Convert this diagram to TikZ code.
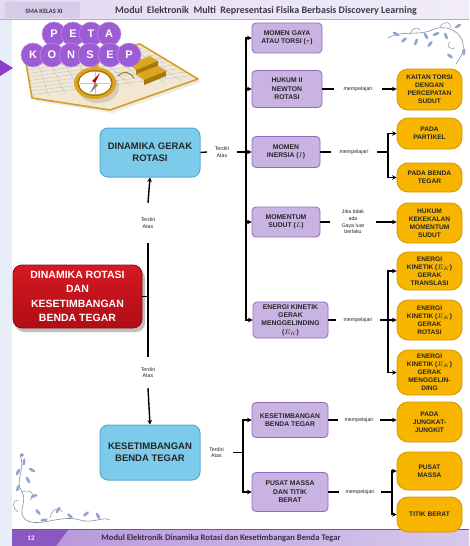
\documentclass[tikz,border=0pt]{standalone}
\usepackage{fontspec}
\setmainfont{Liberation Sans}
\newfontfamily\hdrfont{Carlito}
\usetikzlibrary{arrows.meta,calc}

\definecolor{pbox}{HTML}{C9B3E3}
\definecolor{pedge}{HTML}{8E6CB8}
\definecolor{obox}{HTML}{F7B500}
\definecolor{oedge}{HTML}{D39500}
\definecolor{bbox}{HTML}{7DCBEB}
\definecolor{bedge}{HTML}{55AAD3}
\definecolor{rtop}{HTML}{D41A22}
\definecolor{rbot}{HTML}{B00D15}
\definecolor{redge}{HTML}{8E0A10}
\definecolor{circ}{HTML}{9E5CD4}
\definecolor{margin}{HTML}{E8EEF8}
\definecolor{hdrA}{HTML}{E2DAF0}
\definecolor{hdrB}{HTML}{F1EDF8}
\definecolor{hdrC}{HTML}{D6CCE8}
\definecolor{hdrtext}{HTML}{3C3A4A}
\definecolor{ftrA}{HTML}{B595DA}
\definecolor{ftrB}{HTML}{D8C8EC}
\definecolor{ftrC}{HTML}{8A58BE}
\definecolor{ftrline}{HTML}{7A4AAE}
\definecolor{ftrtext}{HTML}{3A2C4C}
\definecolor{vine}{HTML}{8A8F9E}
\definecolor{leaf}{HTML}{8EA6D2}
\definecolor{mapbg}{HTML}{F2E8D2}
\definecolor{gold}{HTML}{DDA51E}
\definecolor{golddark}{HTML}{A8770C}
\definecolor{grid}{HTML}{B9C4D8}
\definecolor{tri}{HTML}{8B3FC8}

\tikzset{
  conn/.style={line width=1.4pt, black},
  arr/.style={conn, -{Stealth[length=4.5pt,width=4.5pt]}},
  bus/.style={conn, line cap=rect},
  topic/.style={draw=pedge, line width=0.8pt, fill=pbox, rounded corners=4pt,
    align=center, inner sep=1pt, text=black!85,
    font=\bfseries\fontsize{6.8}{8.4}\selectfont},
  leafbox/.style={draw=oedge, line width=0.8pt, fill=obox, rounded corners=11pt,
    align=center, inner sep=1pt, minimum width=65pt, text=black!85,
    font=\bfseries\fontsize{6.6}{8}\selectfont},
  mainbox/.style={draw=bedge, line width=1pt, fill=bbox, rounded corners=8pt,
    align=center, minimum width=100pt, text=black!85,
    font=\bfseries\fontsize{9.5}{12}\selectfont},
  rootbox/.style={draw=redge, line width=0.8pt, top color=rtop, bottom color=rbot,
    rounded corners=9pt, align=center, text=white,
    font=\bfseries\fontsize{10.5}{14.5}\selectfont},
  note/.style={inner sep=0pt, align=center, text=black!85,
    font=\fontsize{5.3}{6.6}\selectfont},
  letter/.style={circle, fill=circ, draw=circ!70!white, line width=0.5pt,
    minimum size=24pt, inner sep=0pt, text=white,
    font=\bfseries\fontsize{11}{11}\selectfont},
}

\newcommand{\vleaf}[3]{\fill[leaf, rotate around={#3:(#1,#2)}] (#1,#2) ellipse (3.6pt and 1.5pt);}

\begin{document}
\begin{tikzpicture}[x=1pt,y=-1pt]
\useasboundingbox (0,0) rectangle (469,546);

% page and margin
\fill[white] (0,0) rectangle (469,546);
\fill[margin] (0,0) rectangle (12,546);

% header band
\shade[left color=hdrA, right color=hdrB] (0,0) rectangle (469,19);
\fill[hdrC] (5,2) rectangle (80,18);
\draw[hdrA!80!black, line width=0.4pt] (0,19) -- (469,19);
\node[font=\hdrfont\bfseries\fontsize{6.5}{7}\selectfont, text=hdrtext] (kelas) at (44,11) {SMA KELAS XI};
\node[font=\hdrfont\bfseries\fontsize{10}{11}\selectfont, text=hdrtext] (judul) at (266,11)
  {Modul\ \ Elektronik\ \ Multi\ \ Representasi Fisika Berbasis Discovery Learning};

% footer band
\shade[left color=ftrA, right color=ftrB] (12,530) rectangle (469,546);
\fill[ftrC] (12,530) -- (68,530) -- (56,546) -- (12,546) -- cycle;
\draw[ftrline, line width=1.2pt] (12,529.6) -- (469,529.6);
\node[font=\hdrfont\bfseries\fontsize{7}{8}\selectfont, text=white!90!ftrA] (hal) at (31,538.5) {12};
\node[font=\hdrfont\bfseries\fontsize{8.6}{9}\selectfont, text=ftrtext] (kaki) at (221,538.5)
  {Modul Elektronik Dinamika Rotasi dan Kesetimbangan Benda Tegar};

% pointer on the left edge
\fill[tri] (0,60) -- (13,68) -- (0,76) -- cycle;

% map with compass
\fill[black, opacity=0.08] (29,67) -- (143,47) -- (201,82) -- (113,113) -- (35,101) -- cycle;
\fill[mapbg] (26,63) -- (140,44) -- (198,79) -- (110,110) -- (32,98) -- cycle;
\begin{scope}
  \clip (26,63) -- (140,44) -- (198,79) -- (110,110) -- (32,98) -- cycle;
  \foreach \t in {0.1,0.2,...,0.95} {
    \draw[grid, line width=0.4pt] ($(26,63)!\t!(140,44)$) -- ($(32,98)!\t!(198,79)$);
    \draw[grid, line width=0.4pt] ($(26,63)!\t!(32,98)$) -- ($(140,44)!\t!(198,79)$);
  }
\end{scope}
\draw[gold!80!brown, line width=1.6pt, line join=round]
  (26,63) -- (140,44) -- (198,79) -- (110,110) -- (32,98) -- cycle;
% gold bars on the map
\fill[gold] (128,64) -- (150,56) -- (158,61) -- (136,70) -- cycle;
\fill[golddark] (136,70) -- (158,61) -- (158,66) -- (136,75) -- cycle;
\fill[gold] (136,74) -- (158,66) -- (166,71) -- (144,80) -- cycle;
\fill[golddark] (144,80) -- (166,71) -- (166,76) -- (144,85) -- cycle;
\draw[golddark, line width=1pt] (118,76) .. controls (124,70) and (130,72) .. (134,78);
% compass
\fill[black, opacity=0.12] (98,87) ellipse (21pt and 16pt);
\fill[gold] (95,83) ellipse (21pt and 16pt);
\fill[golddark] (95,83) ellipse (17.5pt and 13pt);
\fill[white] (95,83) ellipse (16pt and 11.5pt);
\draw[grid, line width=0.3pt] (95,72) -- (95,94) (80,83) -- (110,83);
\fill[red!75!black] (95,83) -- (92,81) -- (100,73) -- cycle;
\fill[gray] (95,83) -- (98,85) -- (90,93) -- cycle;
\fill[gold] (95,66) ellipse (4pt and 3pt);

% title letters
\foreach \ch/\px in {P/54, E/73, T/91, A/109}
  \node[letter] (peta\ch) at (\px,34) {\ch};
\foreach \ch/\px [count=\i] in {K/33, O/52, N/71, S/90, E/110, P/129}
  \node[letter] (konsep\i) at (\px,55) {\ch};

% floral ornaments
\draw[vine, line width=0.6pt] (388,38) .. controls (400,30) and (420,36) .. (432,30)
  .. controls (444,24) and (458,30) .. (462,40) .. controls (466,50) and (460,58) .. (456,64);
\draw[vine, line width=0.5pt] (410,34) .. controls (412,28) and (418,26) .. (420,30);
\draw[vine, line width=0.5pt] (440,27) .. controls (444,20) and (452,22) .. (450,28);
\draw[vine, line width=0.5pt] (455,48) .. controls (448,50) and (446,44) .. (450,42);
\vleaf{396}{34}{-30} \vleaf{404}{40}{40} \vleaf{416}{42}{70} \vleaf{426}{36}{-60}
\vleaf{436}{34}{20} \vleaf{446}{36}{-70} \vleaf{458}{26}{30} \vleaf{464}{52}{80}
\vleaf{450}{56}{-40} \vleaf{430}{44}{50}

\draw[vine, line width=0.6pt] (20,455) .. controls (26,470) and (14,480) .. (22,492)
  .. controls (28,502) and (16,512) .. (26,520) .. controls (40,528) and (60,514) .. (80,520)
  .. controls (92,524) and (104,516) .. (110,520);
\draw[vine, line width=0.5pt] (22,492) .. controls (32,488) and (36,496) .. (30,500);
\draw[vine, line width=0.5pt] (50,518) .. controls (52,508) and (60,506) .. (62,512);
\draw[vine, line width=0.5pt] (18,512) .. controls (12,508) and (12,500) .. (18,500);
\vleaf{24}{462}{80} \vleaf{18}{472}{60} \vleaf{28}{480}{-60} \vleaf{32}{470}{-30}
\vleaf{18}{488}{70} \vleaf{34}{496}{20} \vleaf{38}{512}{-50} \vleaf{58}{510}{60}
\vleaf{70}{516}{-40} \vleaf{86}{514}{40} \vleaf{98}{516}{-60} \vleaf{44}{520}{10}
\fill[vine] (22,455) circle (1.8pt);

% main concepts
\fill[black, opacity=0.25, rounded corners=9pt] (15,269) rectangle (145,332);
\node[rootbox, minimum width=129pt, minimum height=63pt] (root) at (77.5,296.5)
  {DINAMIKA ROTASI\\DAN\\KESETIMBANGAN\\BENDA TEGAR};
\node[mainbox, minimum height=49pt] (rot) at (150,152.5) {DINAMIKA GERAK\\ROTASI};
\node[mainbox, minimum height=55pt] (keset) at (150,452.5) {KESETIMBANGAN\\BENDA TEGAR};

% sub topics
\node[topic, minimum width=70pt, minimum height=30pt] (torsi) at (287,38) {MOMEN GAYA\\ATAU TORSI ($\tau$)};
\node[topic, minimum width=70pt, minimum height=37pt] (newton) at (287,89) {HUKUM II\\NEWTON\\ROTASI};
\node[topic, minimum width=68pt, minimum height=31pt] (inersia) at (286,152) {MOMEN\\INERSIA ($I$)};
\node[topic, minimum width=68pt, minimum height=30pt] (momentum) at (286,222) {MOMENTUM\\SUDUT ($L$)};
\node[topic, minimum width=75pt, minimum height=36pt] (ek) at (290.5,320) {ENERGI KINETIK\\GERAK\\MENGGELINDING\\($E_K$)};
\node[topic, minimum width=76pt, minimum height=35pt] (kbt) at (290,420) {KESETIMBANGAN\\BENDA TEGAR};
\node[topic, minimum width=76pt, minimum height=39pt] (pmt) at (290,492) {PUSAT MASSA\\DAN TITIK\\BERAT};

% results
\node[leafbox, minimum height=41pt] (kaitan) at (429.5,89.5) {KAITAN TORSI\\DENGAN\\PERCEPATAN\\SUDUT};
\node[leafbox, minimum height=31pt] (partikel) at (429.5,133.5) {PADA\\PARTIKEL};
\node[leafbox, minimum height=29pt] (bendategar) at (429.5,177.5) {PADA BENDA\\TEGAR};
\node[leafbox, minimum height=40pt] (kekekalan) at (429.5,223) {HUKUM\\KEKEKALAN\\MOMENTUM\\SUDUT};
\node[leafbox, minimum height=38pt] (ektrans) at (429.5,271) {ENERGI\\KINETIK ($E_K$)\\GERAK\\TRANSLASI};
\node[leafbox, minimum height=40pt] (ekrot) at (429.5,320) {ENERGI\\KINETIK ($E_K$)\\GERAK\\ROTASI};
\node[leafbox, minimum height=45pt] (ekgel) at (429.5,372.5) {ENERGI\\KINETIK ($E_K$)\\GERAK\\MENGGELIN-\\DING};
\node[leafbox, minimum height=40pt] (jungkat) at (429.5,422) {PADA\\JUNGKAT-\\JUNGKIT};
\node[leafbox, minimum height=38pt] (pusatmassa) at (429.5,471) {PUSAT\\MASSA};
\node[leafbox, minimum height=35pt] (titikberat) at (429.5,514.5) {TITIK BERAT};

% connector labels
\node[note, minimum width=30pt, minimum height=12pt] (ta1) at (222,152) {Terdiri\\Atas};
\node[note, minimum width=20pt, minimum height=40pt] (ta2) at (148,223) {Terdiri\\Atas};
\node[note, minimum width=20pt, minimum height=31pt] (ta3) at (148,372.5) {Terdiri\\Atas};
\node[note, minimum width=33pt, minimum height=12pt] (ta4) at (216.5,452.5) {Terdiri\\Atas};
\node[note, minimum width=48pt] (m1) at (358,89) {mempelajari};
\node[note, minimum width=46pt] (m2) at (354,152) {mempelajari};
\node[note, minimum width=45pt] (m3) at (353,222) {Jika tidak\\ada\\Gaya luar\\berlaku};
\node[note, minimum width=44pt] (m4) at (358,320) {mempelajari};
\node[note, minimum width=42pt] (m5) at (359,420) {mempelajari};
\node[note, minimum width=42pt] (m6) at (360,492) {mempelajari};

% trunk between the main concepts
\draw[arr] (ta2.north) -- (rot.south);
\draw[conn] (ta2.south) -- (ta3.north);
\draw[arr] (ta3.south) -- (keset.north);
\draw[conn] (root.east) -- (root.east -| ta2.south);

% upper branch
\coordinate (busU) at (246,152);
\draw[conn] (rot.east) -- (ta1.west);
\draw[conn] (ta1.east) -- (busU);
\draw[bus] (torsi.west -| busU) -- (ek.west -| busU);
\foreach \b in {torsi, newton, inersia, momentum, ek}
  \draw[arr] (\b.west -| busU) -- (\b.west);

\draw[conn] (newton.east) -- (m1.west);
\draw[arr] (m1.east) -- (kaitan.west |- m1.east);

\coordinate (sp2) at (388,152);
\draw[conn] (inersia.east) -- (m2.west);
\draw[conn] (m2.east) -- (sp2);
\draw[bus] (partikel.west -| sp2) -- (bendategar.west -| sp2);
\draw[arr] (partikel.west -| sp2) -- (partikel.west);
\draw[arr] (bendategar.west -| sp2) -- (bendategar.west);

\draw[conn] (momentum.east) -- (m3.west);
\draw[arr] (m3.east) -- (kekekalan.west |- m3.east);

\coordinate (sp4) at (388,320);
\draw[conn] (ek.east) -- (m4.west);
\draw[conn] (m4.east) -- (sp4);
\draw[bus] (ektrans.west -| sp4) -- (ekgel.west -| sp4);
\foreach \b in {ektrans, ekrot, ekgel}
  \draw[arr] (\b.west -| sp4) -- (\b.west);

% lower branch
\coordinate (busL) at (243,452.5);
\draw[conn] (ta4.east) -- (busL);
\draw[bus] (kbt.west -| busL) -- (pmt.west -| busL);
\draw[arr] (kbt.west -| busL) -- (kbt.west);
\draw[arr] (pmt.west -| busL) -- (pmt.west);

\draw[conn] (kbt.east) -- (m5.west);
\draw[arr] (m5.east) -- (jungkat.west |- m5.east);

\coordinate (sp6) at (392,492);
\draw[conn] (pmt.east) -- (m6.west);
\draw[conn] (m6.east) -- (sp6);
\draw[bus] (pusatmassa.west -| sp6) -- (titikberat.west -| sp6);
\draw[arr] (pusatmassa.west -| sp6) -- (pusatmassa.west);
\draw[arr] (titikberat.west -| sp6) -- (titikberat.west);
\end{tikzpicture}
\end{document}
